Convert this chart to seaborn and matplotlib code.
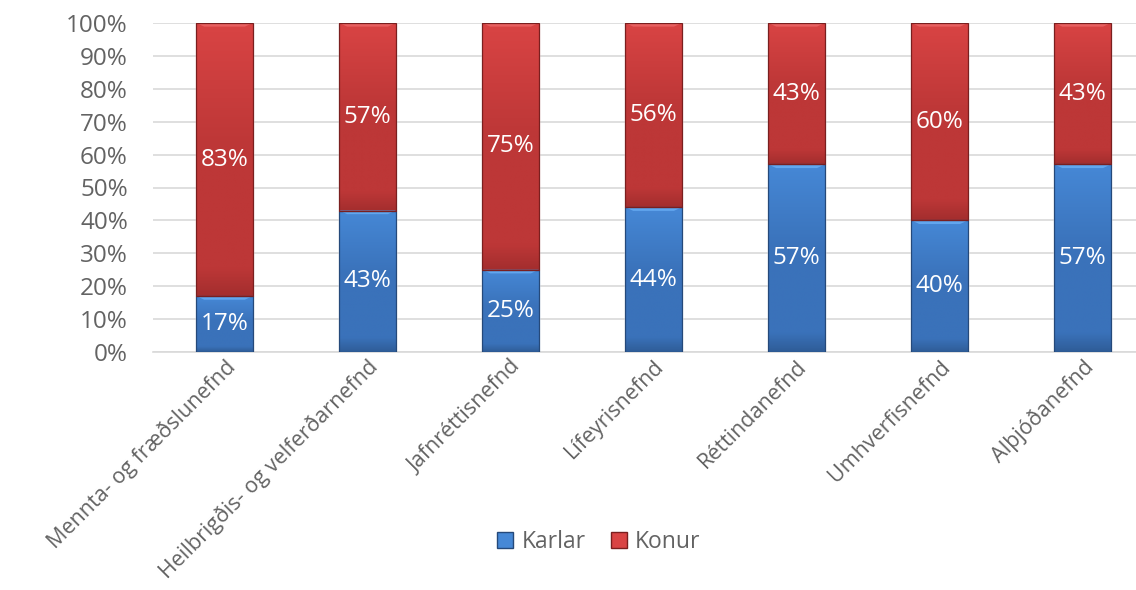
import numpy as np
import pandas as pd
import matplotlib
matplotlib.use("Agg")
import matplotlib.pyplot as plt
from matplotlib.patches import Patch, Polygon
from matplotlib.colors import LinearSegmentedColormap
import seaborn as sns

# Data
nefndir = [
    "Mennta- og fræðslunefnd",
    "Heilbrigðis- og velferðarnefnd",
    "Jafnréttisnefnd",
    "Lífeyrisnefnd",
    "Réttindanefnd",
    "Umhverfisnefnd",
    "Alþjóðanefnd",
]
karlar = [17, 43, 25, 44, 57, 40, 57]
konur = [83, 57, 75, 56, 43, 60, 43]
series_names = ["Karlar", "Konur"]

TEXT_GRAY = "#636363"
GRID_GRAY = "#d9d9d9"
# (bottom, lower-mid, top, bevel, edge)
BLUE = ("#2f5d98", "#3a72ba", "#4688d6", "#62a6ee", "#25497a")
RED = ("#a42e2e", "#bd3737", "#d94444", "#e86060", "#7a1f1f")
FS = 17.5

sns.set_theme(style="white")
plt.rcParams["font.family"] = ["Open Sans", "DejaVu Sans"]

df = pd.DataFrame({"nefnd": nefndir, "Karlar": karlar, "Konur": konur})
df["total"] = df["Karlar"] + df["Konur"]

fig = plt.figure(figsize=(11.36, 5.9), dpi=100)
ax = fig.add_axes([153 / 1136, 1 - 352 / 590, (1145 - 153) / 1136, (352 - 23) / 590])

# base bars via seaborn (red = total, blue = karlar on top)
sns.barplot(data=df, x="nefnd", y="total", color=RED[1], width=0.395,
            ax=ax, zorder=2)
n_red = len(ax.patches)
sns.barplot(data=df, x="nefnd", y="Karlar", color=BLUE[1], width=0.395,
            ax=ax, zorder=2)
red_bars = ax.patches[:n_red]
blue_bars = ax.patches[n_red:]


def shade_segment(x0, w, y0, y1, pal):
    bot, mid, top, bev, edge = pal
    cmap = LinearSegmentedColormap.from_list(
        "g", [(0, bot), (0.1, mid), (0.55, mid), (1, top)])
    grad = np.linspace(0, 1, 200).reshape(-1, 1)
    ax.imshow(grad, extent=[x0, x0 + w, y0, y1], origin="lower",
              aspect="auto", cmap=cmap, zorder=3, interpolation="bilinear")
    # bevel on top edge
    bh = 1.1
    bw = w * 0.14
    bevel = Polygon([[x0, y1], [x0 + w, y1], [x0 + w - bw, y1 - bh],
                     [x0 + bw, y1 - bh]], closed=True,
                    facecolor=bev, edgecolor="none", zorder=4)
    ax.add_patch(bevel)
    ax.add_patch(plt.Rectangle((x0, y0), w, y1 - y0, fill=False,
                               edgecolor=edge, linewidth=0.9, zorder=5))


for i, (rb, bb) in enumerate(zip(red_bars, blue_bars)):
    x0, w = bb.get_x(), bb.get_width()
    k = karlar[i]
    shade_segment(x0, w, 0, k, BLUE)
    shade_segment(x0, w, k, k + konur[i], RED)
    cx = x0 + w / 2
    ax.text(cx, k / 2, f"{k}%", ha="center", va="center", color="white",
            fontsize=FS, zorder=6)
    ax.text(cx, k + konur[i] / 2, f"{konur[i]}%", ha="center", va="center",
            color="white", fontsize=FS, zorder=6)

ax.set_xlim(-0.5, 6.436)
ax.set_ylim(0, 100)
ax.set_yticks(np.arange(0, 101, 10))
ax.set_yticklabels([f"{v}%" for v in range(0, 101, 10)])
ax.yaxis.grid(True, color=GRID_GRAY, linewidth=1.2, zorder=0)
ax.set_axisbelow(True)
for s in ["top", "right", "left"]:
    ax.spines[s].set_visible(False)
ax.spines["bottom"].set_color(GRID_GRAY)
ax.spines["bottom"].set_linewidth(1.2)
ax.set_xlabel("")
ax.set_ylabel("")
ax.tick_params(axis="y", colors=TEXT_GRAY, labelsize=FS, length=0, pad=18)
ax.tick_params(axis="x", colors=TEXT_GRAY, labelsize=15.5, length=0, pad=3)
plt.setp(ax.get_xticklabels(), rotation=45, ha="right",
         rotation_mode="anchor")
for lbl in ax.get_yticklabels() + ax.get_xticklabels():
    lbl.set_color(TEXT_GRAY)

handles = [Patch(facecolor=BLUE[2], edgecolor=BLUE[4], label=series_names[0]),
           Patch(facecolor=RED[2], edgecolor=RED[4], label=series_names[1])]
leg = fig.legend(handles=handles, loc="center", bbox_to_anchor=(0.527, 0.082),
                 ncol=2, frameon=False, fontsize=16.5, handlelength=0.7,
                 handleheight=0.7, handletextpad=0.35, columnspacing=1.1)
for t in leg.get_texts():
    t.set_color(TEXT_GRAY)

fig.savefig("out.png", dpi=100)
